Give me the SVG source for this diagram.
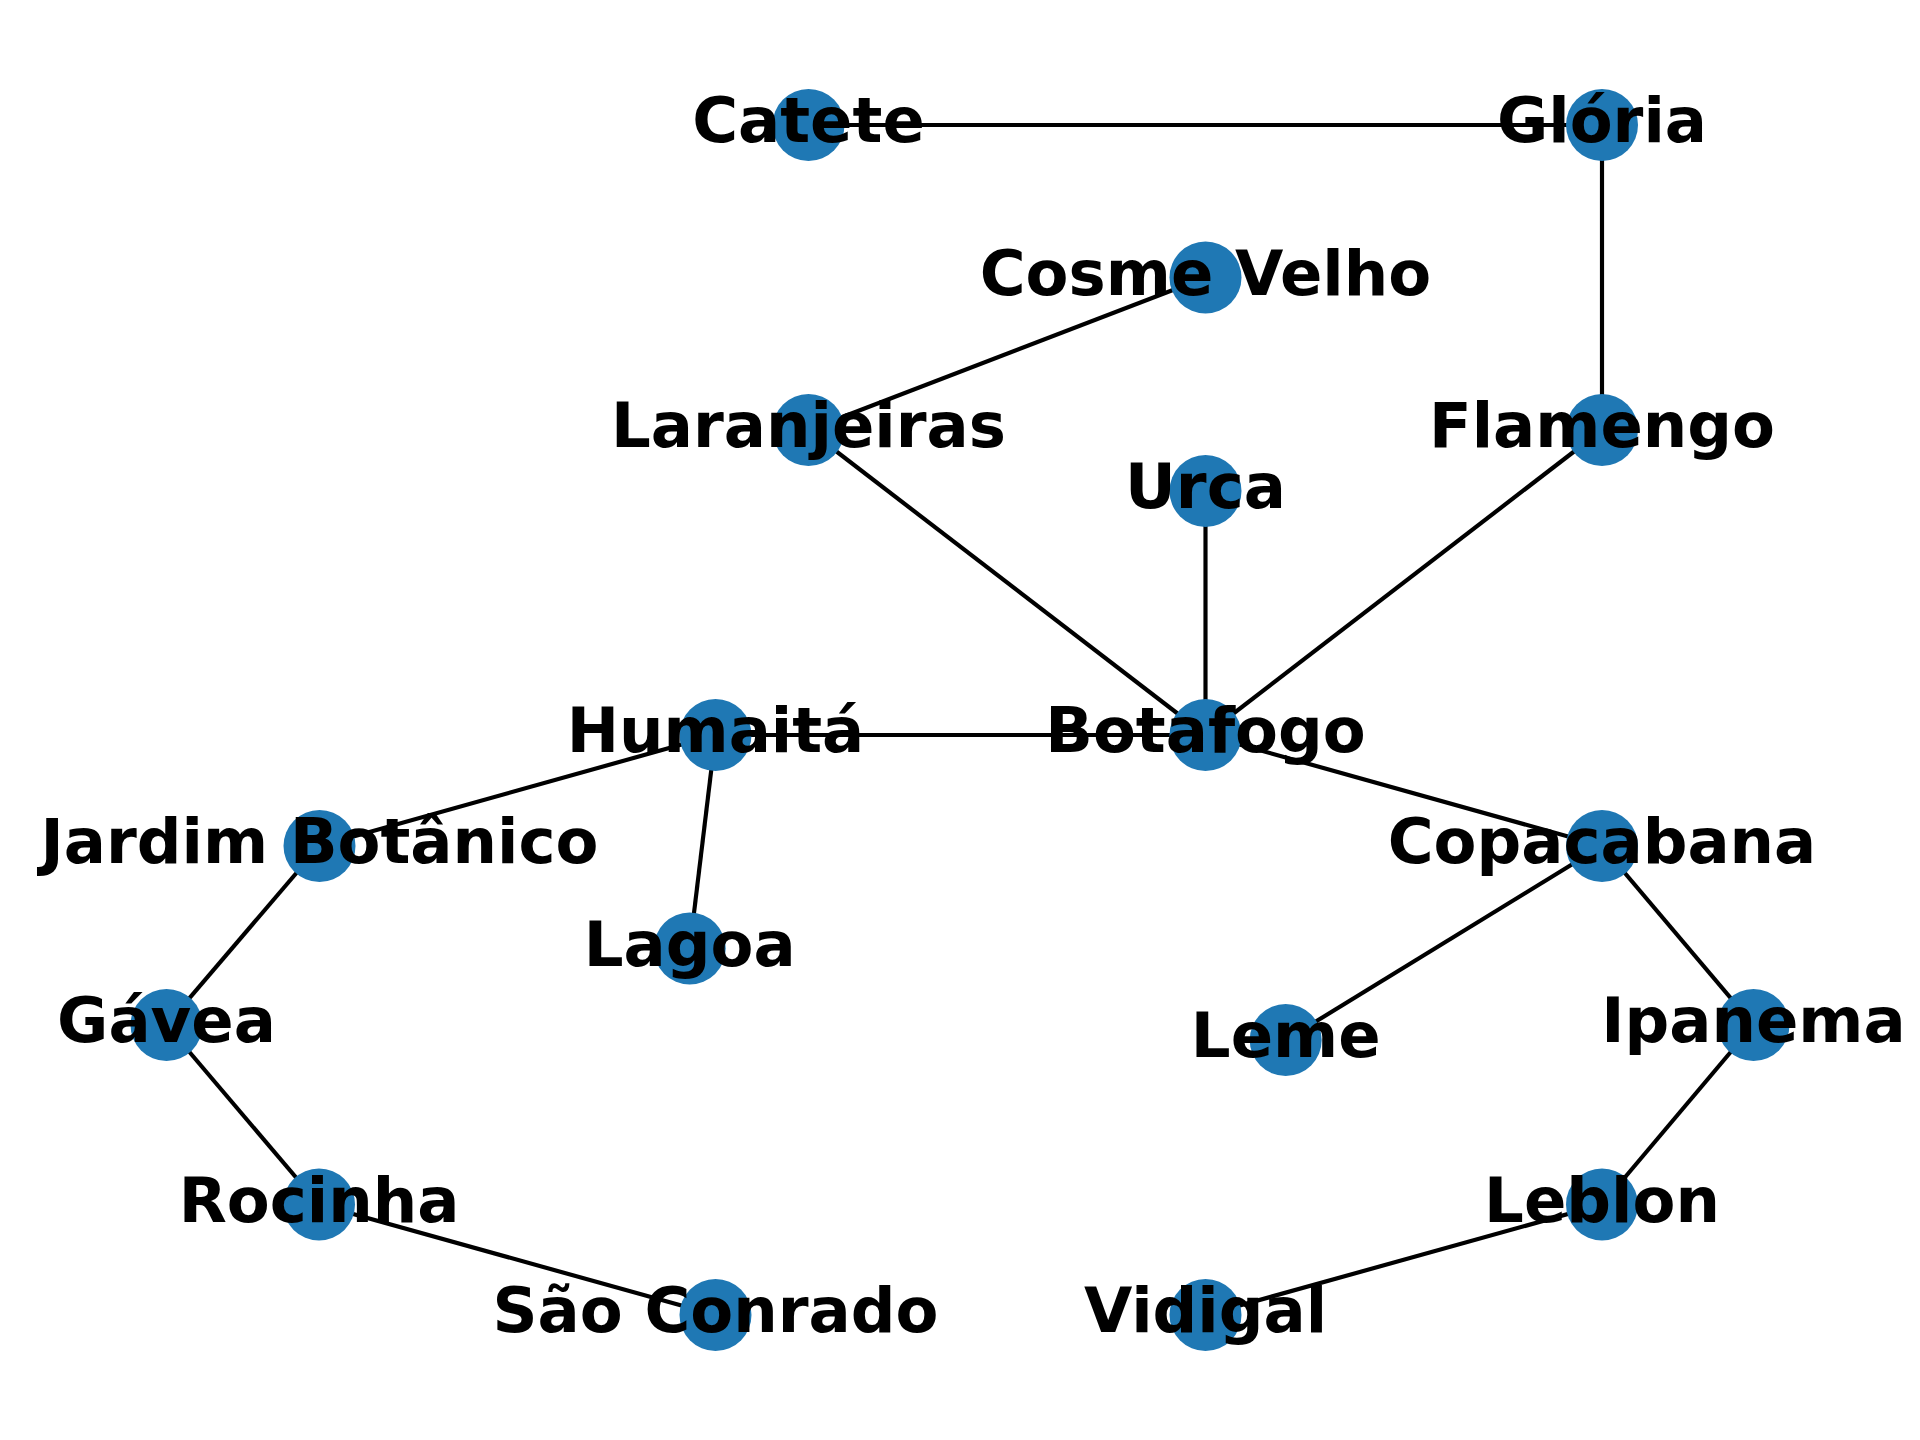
<svg xmlns="http://www.w3.org/2000/svg" width="1920" height="1440" viewBox="0 0 1920 1440">
<style>
.n{fill:#1f78b4}
.l{font-family:"DejaVu Sans","Liberation Sans",sans-serif;font-weight:bold;font-size:62.5px;fill:#000;text-anchor:middle}
.e{stroke:#000;stroke-width:4.17;fill:none}
</style>
<rect width="1920" height="1440" fill="#fff"/>
<g id="edges" class="e">
<line x1="808.5" y1="125" x2="1602" y2="125"/>
<line x1="1602" y1="125" x2="1602" y2="430"/>
<line x1="1205.5" y1="277.5" x2="808.5" y2="430"/>
<line x1="808.5" y1="430" x2="1205.5" y2="735"/>
<line x1="1205.5" y1="491" x2="1205.5" y2="735"/>
<line x1="1602" y1="430" x2="1205.5" y2="735"/>
<line x1="715.5" y1="735" x2="1205.5" y2="735"/>
<line x1="1205.5" y1="735" x2="1602" y2="846"/>
<line x1="715.5" y1="735" x2="319.5" y2="846"/>
<line x1="715.5" y1="735" x2="689.7" y2="948.5"/>
<line x1="319.5" y1="846" x2="166.5" y2="1025"/>
<line x1="166.5" y1="1025" x2="319" y2="1204.5"/>
<line x1="319" y1="1204.5" x2="715.5" y2="1315"/>
<line x1="1602" y1="846" x2="1285.7" y2="1040"/>
<line x1="1602" y1="846" x2="1753.5" y2="1025"/>
<line x1="1753.5" y1="1025" x2="1602" y2="1204.5"/>
<line x1="1602" y1="1204.5" x2="1205.5" y2="1315"/>
</g>
<g id="catete"><circle class="n" cx="808.5" cy="125" r="36"/><text class="l" x="808.5" y="142">Catete</text></g>
<g id="gloria"><circle class="n" cx="1602" cy="125" r="36"/><text class="l" x="1602" y="142">Glória</text></g>
<g id="cosme-velho"><circle class="n" cx="1205.5" cy="277.5" r="36"/><text class="l" x="1205.5" y="294.5">Cosme Velho</text></g>
<g id="laranjeiras"><circle class="n" cx="808.5" cy="430" r="36"/><text class="l" x="808.5" y="447">Laranjeiras</text></g>
<g id="flamengo"><circle class="n" cx="1602" cy="430" r="36"/><text class="l" x="1602" y="447">Flamengo</text></g>
<g id="urca"><circle class="n" cx="1205.5" cy="491" r="36"/><text class="l" x="1205.5" y="508">Urca</text></g>
<g id="humaita"><circle class="n" cx="715.5" cy="735" r="36"/><text class="l" x="715.5" y="752">Humaitá</text></g>
<g id="botafogo"><circle class="n" cx="1205.5" cy="735" r="36"/><text class="l" x="1205.5" y="752">Botafogo</text></g>
<g id="jardim-botanico"><circle class="n" cx="319.5" cy="846" r="36"/><text class="l" x="319.5" y="863">Jardim Botânico</text></g>
<g id="copacabana"><circle class="n" cx="1602" cy="846" r="36"/><text class="l" x="1602" y="863">Copacabana</text></g>
<g id="lagoa"><circle class="n" cx="689.7" cy="948.5" r="36"/><text class="l" x="689.7" y="965.5">Lagoa</text></g>
<g id="gavea"><circle class="n" cx="166.5" cy="1025" r="36"/><text class="l" x="166.5" y="1042">Gávea</text></g>
<g id="leme"><circle class="n" cx="1285.7" cy="1040" r="36"/><text class="l" x="1285.7" y="1057">Leme</text></g>
<g id="ipanema"><circle class="n" cx="1753.5" cy="1025" r="36"/><text class="l" x="1753.5" y="1042">Ipanema</text></g>
<g id="rocinha"><circle class="n" cx="319" cy="1204.5" r="36"/><text class="l" x="319" y="1221.5">Rocinha</text></g>
<g id="leblon"><circle class="n" cx="1602" cy="1204.5" r="36"/><text class="l" x="1602" y="1221.5">Leblon</text></g>
<g id="sao-conrado"><circle class="n" cx="715.5" cy="1315" r="36"/><text class="l" x="715.5" y="1332">São Conrado</text></g>
<g id="vidigal"><circle class="n" cx="1205.5" cy="1315" r="36"/><text class="l" x="1205.5" y="1332">Vidigal</text></g>
</svg>
